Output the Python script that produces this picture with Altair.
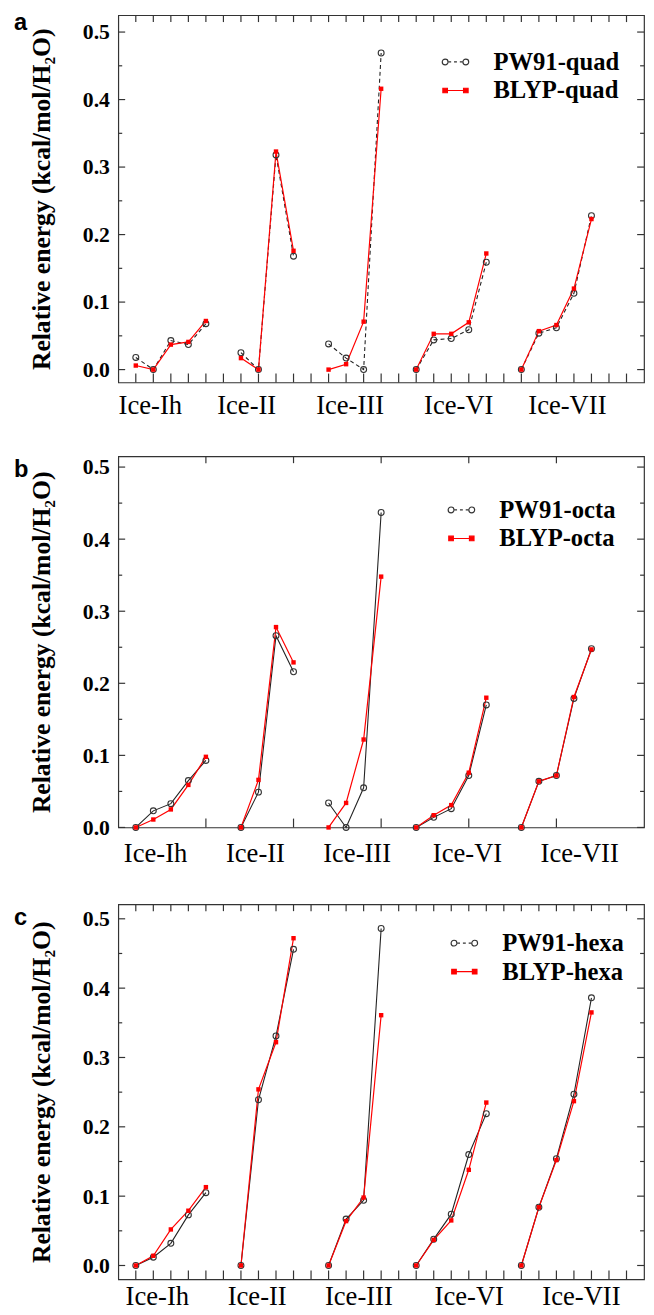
import altair as alt
import pandas as pd

SERIF = "Liberation Serif, Times New Roman, serif"
SANS = "Liberation Sans, Arial, sans-serif"
FRAME = "#333333"

groups = ["Ice-Ih", "Ice-II", "Ice-III", "Ice-VI", "Ice-VII"]
positions = [[1, 2, 3, 4, 5], [7, 8, 9, 10], [12, 13, 14, 15], [17, 18, 19, 20, 21], [23, 24, 25, 26, 27]]

quad_names = ["PW91-quad", "BLYP-quad"]
quad_pw91 = [[0.018, 0.0, 0.043, 0.037, 0.068], [0.025, 0.0, 0.318, 0.168], [0.038, 0.017, 0.0, 0.469],
             [0.0, 0.044, 0.046, 0.059, 0.159], [0.0, 0.054, 0.062, 0.113, 0.228]]
quad_blyp = [[0.006, 0.0, 0.037, 0.041, 0.072], [0.017, 0.0, 0.323, 0.176], [0.0, 0.008, 0.071, 0.416],
             [0.0, 0.053, 0.053, 0.070, 0.172], [0.0, 0.057, 0.066, 0.120, 0.223]]

octa_names = ["PW91-octa", "BLYP-octa"]
octa_pw91 = [[0.0, 0.023, 0.033, 0.065, 0.093], [0.0, 0.049, 0.266, 0.216], [0.034, 0.0, 0.055, 0.437],
             [0.0, 0.014, 0.026, 0.072, 0.170], [0.0, 0.064, 0.072, 0.179, 0.248]]
octa_blyp = [[0.0, 0.011, 0.025, 0.059, 0.098], [0.0, 0.066, 0.278, 0.229], [0.0, 0.034, 0.122, 0.348],
             [0.0, 0.017, 0.031, 0.076, 0.180], [0.0, 0.064, 0.072, 0.181, 0.247]]

hexa_names = ["PW91-hexa", "BLYP-hexa"]
hexa_pw91 = [[0.0, 0.012, 0.032, 0.073, 0.105], [0.0, 0.239, 0.331, 0.456], [0.0, 0.067, 0.094, 0.486],
             [0.0, 0.038, 0.074, 0.160, 0.219], [0.0, 0.084, 0.154, 0.247, 0.386]]
hexa_blyp = [[0.0, 0.014, 0.052, 0.079, 0.113], [0.0, 0.254, 0.322, 0.472], [0.0, 0.064, 0.098, 0.361],
             [0.0, 0.037, 0.065, 0.138, 0.235], [0.0, 0.084, 0.152, 0.237, 0.365]]

label_pos_a = [1.8, 7.3, 13.2, 19.4, 25.6]
label_pos_b = [2.1, 7.8, 13.6, 19.9, 26.3]
label_pos_c = [2.2, 7.9, 13.7, 20.0, 26.4]

x_ticks_fine = list(range(1, 30))
x_ticks_coarse = [5, 10, 15, 20, 25]
y_major = [0.0, 0.1, 0.2, 0.3, 0.4, 0.5]
y_minor = [0.05, 0.15, 0.25, 0.35, 0.45]

Y_TITLE = "Relative energy (kcal/mol/H\u2082O)"
W = 534

PW_PATH = ("M-0.72,0A0.28,0.28,0,1,1,-1.28,0A0.28,0.28,0,1,1,-0.72,0Z"
           "M1.28,0A0.28,0.28,0,1,1,0.72,0A0.28,0.28,0,1,1,1.28,0Z"
           "M-0.66,0L-0.42,0M-0.14,0L0.14,0M0.42,0L0.66,0")
BLYP_PATH = ("M-1.22,-0.22L-0.78,-0.22L-0.78,0.22L-1.22,0.22Z"
             "M0.78,-0.22L1.22,-0.22L1.22,0.22L0.78,0.22Z"
             "M-0.78,0L0.78,0")


def make_df(pw, blyp, names):
    rows = []
    for series, vals in ((names[0], pw), (names[1], blyp)):
        for g, xs, ys in zip(groups, positions, vals):
            for x, y in zip(xs, ys):
                rows.append({"series": series, "group": g, "x": x, "y": y})
    return pd.DataFrame(rows)


def panel(pw, blyp, names, label_pos, x_ticks, y_dom, height, dashed, letter,
          leg_x, leg_y, lab_pad, letter_dy):
    df = make_df(pw, blyp, names)
    xs = alt.Scale(domain=[0, 30], nice=False, zero=False)
    ys = alt.Scale(domain=y_dom, nice=False, zero=False)
    label_expr = ("[" + ",".join("'%s'" % g for g in groups) + "][indexof(["
                  + ",".join(str(p) for p in label_pos) + "], datum.value)]")
    x_axis = alt.Axis(values=label_pos, labelExpr=label_expr, ticks=False, domain=False,
                      grid=False, labelFont=SERIF, labelFontSize=27, labelFontWeight="normal",
                      labelColor="black", labelPadding=lab_pad, labelFlush=False, labelOverlap=False,
                      labelBaseline="top", title=None)
    y_axis = alt.Axis(values=y_major, format=".1f", ticks=False, domain=False, grid=False,
                      labelFont=SERIF, labelFontSize=22, labelFontWeight="bold", labelColor="black",
                      labelPadding=9, labelFlush=False, labelOverlap=False,
                      title=Y_TITLE, titleFont=SERIF, titleFontSize=26, titleFontWeight="bold",
                      titleColor="black", titleX=-78, titleY=height / 2, titleBaseline="middle",
                      titleAlign="center", titleAngle=270)

    X = alt.X("x:Q", scale=xs, axis=x_axis)
    Y = alt.Y("y:Q", scale=ys, axis=y_axis)
    base = alt.Chart(df)
    line_kw = dict(color="#222222", strokeWidth=1.1)
    if dashed:
        line_kw["strokeDash"] = [4, 3]
    line_pw = base.transform_filter(alt.datum.series == names[0]).mark_line(**line_kw).encode(
        x=X, y=Y, detail="group:N")
    line_bl = base.transform_filter(alt.datum.series == names[1]).mark_line(
        color="red", strokeWidth=1.2).encode(x=X, y=Y, detail="group:N")
    pts_pw = base.transform_filter(alt.datum.series == names[0]).mark_point(
        shape="circle", filled=False, size=36, color="#333333", strokeWidth=1.1, opacity=1).encode(x=X, y=Y)
    pts_bl = base.transform_filter(alt.datum.series == names[1]).mark_square(
        size=20, color="red", opacity=1).encode(x=X, y=Y)

    xt = alt.Chart(pd.DataFrame({"x": x_ticks}))
    bottom_ticks = xt.mark_rule(color=FRAME, strokeWidth=1.2).encode(
        x=X, y=alt.value(height), y2=alt.value(height - 9))
    top_ticks = xt.mark_rule(color=FRAME, strokeWidth=1.2).encode(
        x=X, y=alt.value(0), y2=alt.value(7))
    ymaj = alt.Chart(pd.DataFrame({"y": y_major}))
    ymin = alt.Chart(pd.DataFrame({"y": y_minor}))
    lmaj = ymaj.mark_rule(color=FRAME, strokeWidth=1.2).encode(y=Y, x=alt.value(0), x2=alt.value(7))
    rmaj = ymaj.mark_rule(color=FRAME, strokeWidth=1.2).encode(y=Y, x=alt.value(W), x2=alt.value(W - 7))
    lmin = ymin.mark_rule(color=FRAME, strokeWidth=1.2).encode(y=Y, x=alt.value(0), x2=alt.value(4))
    rmin = ymin.mark_rule(color=FRAME, strokeWidth=1.2).encode(y=Y, x=alt.value(W), x2=alt.value(W - 4))

    legend = alt.Legend(title=None, orient="none", legendX=leg_x, legendY=leg_y, padding=0,
                        labelFont=SERIF, labelFontSize=25, labelFontWeight="bold", labelColor="black",
                        symbolSize=441, symbolStrokeWidth=1.2, symbolOpacity=1, labelOffset=26,
                        rowPadding=3, labelLimit=300)
    leg = base.transform_filter("false").mark_point(opacity=1).encode(
        x=X, y=Y,
        color=alt.Color("series:N", scale=alt.Scale(domain=names, range=["#333333", "red"]), legend=legend),
        shape=alt.Shape("series:N", scale=alt.Scale(domain=names, range=[PW_PATH, BLYP_PATH]), legend=legend),
        fill=alt.Fill("series:N", scale=alt.Scale(domain=names, range=["transparent", "red"]), legend=legend),
    )

    letter_layer = alt.Chart(pd.DataFrame({"label": [letter]})).mark_text(
        font=SANS, fontSize=24, fontWeight="bold", color="black", align="left", baseline="top"
    ).encode(text="label:N", x=alt.value(-106), y=alt.value(letter_dy))

    return alt.layer(line_pw, line_bl, pts_pw, pts_bl, bottom_ticks, top_ticks, lmaj, rmaj, lmin, rmin,
                     leg, letter_layer).properties(width=W, height=height)


pa = panel(quad_pw91, quad_blyp, quad_names, label_pos_a, x_ticks_fine, [-0.019, 0.525], 373, True, "a",
           330, 35, 11, -4)
pb = panel(octa_pw91, octa_blyp, octa_names, label_pos_b, x_ticks_coarse, [0.0, 0.515], 377, False, "b",
           336, 42, 14, 2)
pc = panel(hexa_pw91, hexa_blyp, hexa_names, label_pos_c, x_ticks_fine, [-0.02, 0.521], 381, False, "c",
           339, 27, 5, 2)

chart = alt.vconcat(pa, pb, pc, spacing=35).resolve_scale(
    color="independent", shape="independent", fill="independent"
).resolve_legend(
    color="independent", shape="independent", fill="independent"
).properties(
    padding={"left": 5, "top": -8, "right": 0, "bottom": 0}
).configure_view(stroke=FRAME, strokeWidth=1.2)

chart.save("out.html", embed_options={"renderer": "svg", "actions": False})
